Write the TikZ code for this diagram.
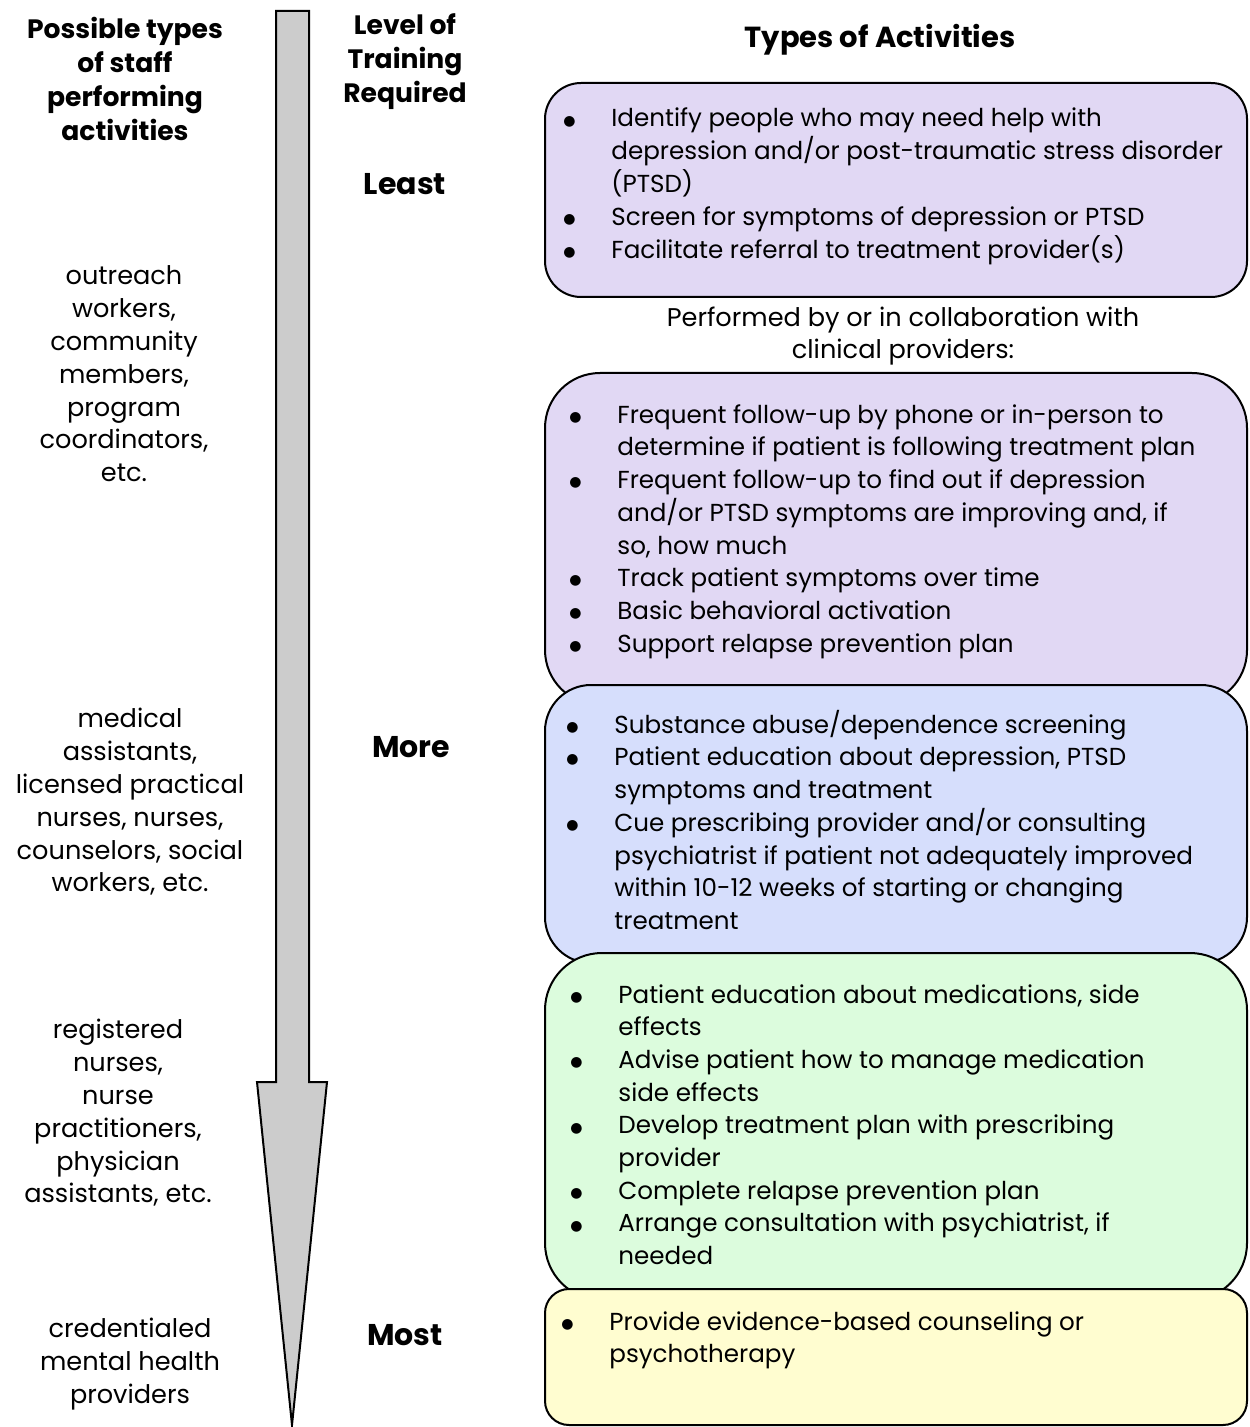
\documentclass[tikz,border=0pt]{standalone}
\usepackage{fontspec}
\setmainfont{Poppins}
\newfontfamily\symfont{DejaVu Sans}
\usepackage{tikz}
\definecolor{lav}{HTML}{E1D8F4}
\definecolor{sky}{HTML}{D6DEFC}
\definecolor{mint}{HTML}{DCFCDD}
\definecolor{cream}{HTML}{FFFDD0}
\definecolor{shaft}{HTML}{CCCCCC}
\newcommand{\bul}{\makebox[24pt][l]{\raisebox{0.9pt}{\symfont\fontsize{7}{10}\selectfont ●}}}
\tikzset{
  box/.style={draw=black, line width=1pt},
  head/.style={font=\bfseries\fontsize{13.3}{17}\selectfont, align=center, inner sep=0pt},
  level/.style={font=\bfseries\fontsize{15}{17}\selectfont, inner sep=0pt},
  staff/.style={font=\fontsize{12.8}{16.4}\selectfont, align=center, inner sep=0pt},
  acts/.style={font=\fontsize{12.3}{16.35}\selectfont, anchor=base west, inner sep=0pt},
}
\begin{document}
\begin{tikzpicture}[x=0.5pt, y=-0.5pt]
  \useasboundingbox (0,0) rectangle (1249,1427);
  \draw[box, fill=shaft, line join=miter]
    (276,11) -- (309,11) -- (309,1082) -- (327,1082) -- (292,1425)
    -- (257,1082) -- (276,1082) -- cycle;
  \node[head] (stafftitle) at (125,79) {Possible types\\of staff\\performing\\activities};
  \node[head] (leveltitle) at (405,62) {Level of\\Training\\Required};
  \node[head, font=\bfseries\fontsize{14.5}{17}\selectfont] (actstitle) at (880,40) {Types of Activities};
  \node[level] (least) at (405,184) {Least};
  \node[level] (more) at (411,747) {More};
  \node[level] (most) at (405,1335) {Most};
  \node[staff] (outreach) at (124,374) {outreach\\workers,\\community\\members,\\program\\coordinators,\\etc.};
  \node[staff] (medical) at (130,802) {medical\\assistants,\\licensed practical\\nurses, nurses,\\counselors, social\\workers, etc.};
  \node[staff] (registered) at (118,1113) {registered\\nurses,\\nurse\\practitioners,\\physician\\assistants, etc.};
  \node[staff] (credential) at (130,1364) {credentialed\\mental health\\providers};
  \draw[box, fill=lav] (545,83) [rounded corners=36*0.5pt] rectangle (1247,297);
  \node[acts] (screen) at (563,127) {\begin{tabular}[t]{@{}l@{}l@{}}
    \bul & Identify people who may need help with\\
    & depression and/or post-traumatic stress disorder\\
    & (PTSD)\\
    \bul & Screen for symptoms of depression or PTSD\\
    \bul & Facilitate referral to treatment provider(s)
  \end{tabular}};
  \node[staff] (collab) at (903,336) {Performed by or in collaboration with\\clinical providers:};
  \draw[box, fill=lav] (545,373) [rounded corners=55*0.5pt] rectangle (1247,705);
  \node[acts] (followup) at (569,423) {\begin{tabular}[t]{@{}l@{}l@{}}
    \bul & Frequent follow-up by phone or in-person to\\
    & determine if patient is following treatment plan\\
    \bul & Frequent follow-up to find out if depression\\
    & and/or PTSD symptoms are improving and, if\\
    & so, how much\\
    \bul & Track patient symptoms over time\\
    \bul & Basic behavioral activation\\
    \bul & Support relapse prevention plan
  \end{tabular}};
  \draw[box, fill=sky] (545,685) [rounded corners=46*0.5pt] rectangle (1247,963);
  \node[acts] (educate) at (566,733) {\begin{tabular}[t]{@{}l@{}l@{}}
    \bul & Substance abuse/dependence screening\\
    \bul & Patient education about depression, PTSD\\
    & symptoms and treatment\\
    \bul & Cue prescribing provider and/or consulting\\
    & psychiatrist if patient not adequately improved\\
    & within 10-12 weeks of starting or changing\\
    & treatment
  \end{tabular}};
  \draw[box, fill=mint] (545,953) [rounded corners=57*0.5pt] rectangle (1247,1300);
  \node[acts] (medication) at (570,1003) {\begin{tabular}[t]{@{}l@{}l@{}}
    \bul & Patient education about medications, side\\
    & effects\\
    \bul & Advise patient how to manage medication\\
    & side effects\\
    \bul & Develop treatment plan with prescribing\\
    & provider\\
    \bul & Complete relapse prevention plan\\
    \bul & Arrange consultation with psychiatrist, if\\
    & needed
  \end{tabular}};
  \draw[box, fill=cream] (545,1289) [rounded corners=24*0.5pt] rectangle (1247,1425);
  \node[acts] (therapy) at (561,1330) {\begin{tabular}[t]{@{}l@{}l@{}}
    \bul & Provide evidence-based counseling or\\
    & psychotherapy
  \end{tabular}};
\end{tikzpicture}
\end{document}
